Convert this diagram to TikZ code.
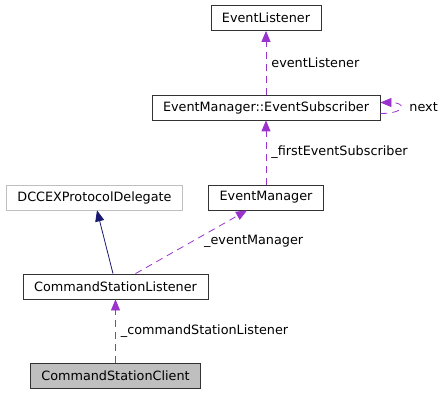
\documentclass[tikz,border=0pt]{standalone}
\usepackage{fontspec}
\setmainfont{DejaVu Sans}
\usetikzlibrary{arrows.meta}
\definecolor{member}{HTML}{9A32CD}
\definecolor{inherit}{HTML}{191970}
\definecolor{lightframe}{HTML}{BFBFBF}
\begin{document}
\begin{tikzpicture}[x=1pt,y=-1pt,
  every node/.style={font=\fontsize{12.8}{15}\selectfont},
  cls/.style={draw=black!80,thick,rectangle,inner xsep=11pt,minimum height=25pt,inner ysep=0pt},
  usage/.style={member,thick,dash pattern=on 7pt off 5pt,-{Triangle[length=11pt,width=9pt]}},
  derive/.style={inherit,thick,-{Triangle[length=11pt,width=9pt]}},
  lbl/.style={anchor=west,inner sep=0pt,text=black}]
\useasboundingbox (0,0) rectangle (444,395);
\node[cls] (listener) at (266,18) {EventListener};
\node[cls] (subscriber) at (266,107.5) {EventManager::EventSubscriber};
\node[cls,draw=lightframe] (delegate) at (94.5,197.5) {DCCEXProtocolDelegate};
\node[cls] (manager) at (266,197.5) {EventManager};
\node[cls] (cslistener) at (115.5,286.5) {CommandStationListener};
\node[cls,fill=lightframe] (client) at (115.5,375.5) {CommandStationClient};

\draw[usage] (subscriber) -- (listener) node[lbl,midway,xshift=5pt] {eventListener};
\draw[usage] ([yshift=-6pt]subscriber.east) .. controls +(26pt,0) and +(26pt,0) .. ([yshift=5pt]subscriber.east)
  node[lbl] (nextlbl) at (409,107) {next};
\draw[usage] (manager) -- (subscriber) node[lbl,midway,xshift=5pt] {\_firstEventSubscriber};
\draw[derive] ([xshift=-2.5pt]cslistener.north) -- ([xshift=2.5pt]delegate.south);
\draw[usage] ([xshift=20pt]cslistener.north) -- ([xshift=-19pt]manager.south);
\node[lbl] (emlbl) at (204,241) {\_eventManager};
\draw[usage] (client) -- (cslistener) node[lbl,midway,xshift=5pt] {\_commandStationListener};
\end{tikzpicture}
\end{document}
